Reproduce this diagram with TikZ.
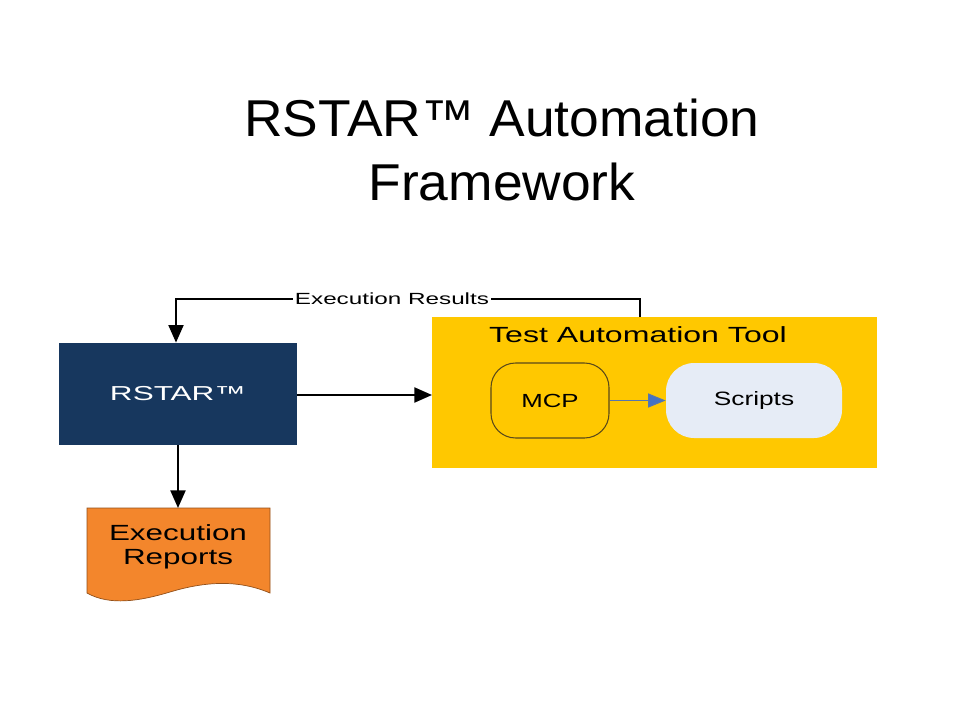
\documentclass[tikz,border=0pt]{standalone}
\usepackage{fontspec}
\setmainfont{Liberation Sans}
\usetikzlibrary{arrows.meta}
\definecolor{navy}{HTML}{17375E}
\definecolor{orng}{HTML}{F3862C}
\definecolor{ylw}{HTML}{FFC800}
\definecolor{lblue}{HTML}{E6ECF6}
\definecolor{arrblue}{HTML}{4472C4}
\definecolor{brn}{HTML}{5A4A1A}
\newcommand{\hstr}[2]{\scalebox{#1}[1]{#2}}
\tikzset{
  px/.style={x=0.02cm,y=-0.02cm},
  conn/.style={draw=black, line width=1.2pt, -{Triangle[length=10pt,width=8.5pt]}},
  lbl/.style={font=\fontsize{12.5}{14}\selectfont, text=black},
}
\begin{document}
\begin{tikzpicture}[px]
\useasboundingbox (0,0) rectangle (960,720);
% title
\node[font=\fontsize{29.5}{36}\selectfont, align=center] (title) at (502,150)
  {\hstr{1.03}{RSTAR™ Automation}\\\hstr{1.03}{Framework}};
% yellow container
\fill[ylw] (432,317) rectangle (877,468);
\node[lbl] (tat) at (638,335) {\hstr{1.46}{Test Automation Tool}};
\node[draw=brn, line width=0.6pt, fill=ylw, rounded corners=14pt, minimum width=118*0.02cm, minimum height=75*0.02cm, font=\fontsize{10.8}{13}\selectfont] (mcp) at (550,400.5) {\hstr{1.36}{MCP}};
\node[fill=lblue, rounded corners=16pt, minimum width=176*0.02cm, minimum height=75*0.02cm, font=\fontsize{11}{13}\selectfont] (scripts) at (754,400.5) {\hstr{1.36}{Scripts}};
\draw[draw=arrblue!70!gray, line width=0.7pt, -{Triangle[length=10pt,width=8pt,fill=arrblue]}] (mcp.east) -- (scripts.west);
% RSTAR box
\node[fill=navy, minimum width=238*0.02cm, minimum height=102*0.02cm, text=white, font=\fontsize{11.5}{14}\selectfont] (rstar) at (178,394) {\hstr{1.56}{RSTAR™}};
% execution reports document
\filldraw[fill=orng, draw=orng!60!black, line width=0.4pt]
  (87,508) -- (270,508) -- (270,593)
  .. controls (235,578) and (200,583) .. (170,592)
  .. controls (140,601) and (110,606) .. (87,593) -- cycle;
\node[lbl, align=center, font=\fontsize{12.5}{13.6}\selectfont] (rep) at (178,546.5) {\hstr{1.43}{Execution}\\\hstr{1.43}{Reports}};
\coordinate (repTop) at (178,508);
% connectors
\coordinate (yl) at (432,395);
\draw[conn] (rstar.east |- yl) -- (yl);
\draw[conn] (rstar.south) -- (repTop);
\coordinate (fbStart) at (640,317);
\coordinate (fbTop) at (640,299);
\coordinate (fbLeft) at (176,299);
\draw[conn] (fbStart) -- (fbTop) -- (fbLeft) -- (rstar.north -| fbLeft);
\node[fill=white, inner sep=1pt, font=\fontsize{9.2}{11}\selectfont] (res) at (392,299) {\hstr{1.5}{Execution Results}};
\end{tikzpicture}
\end{document}
